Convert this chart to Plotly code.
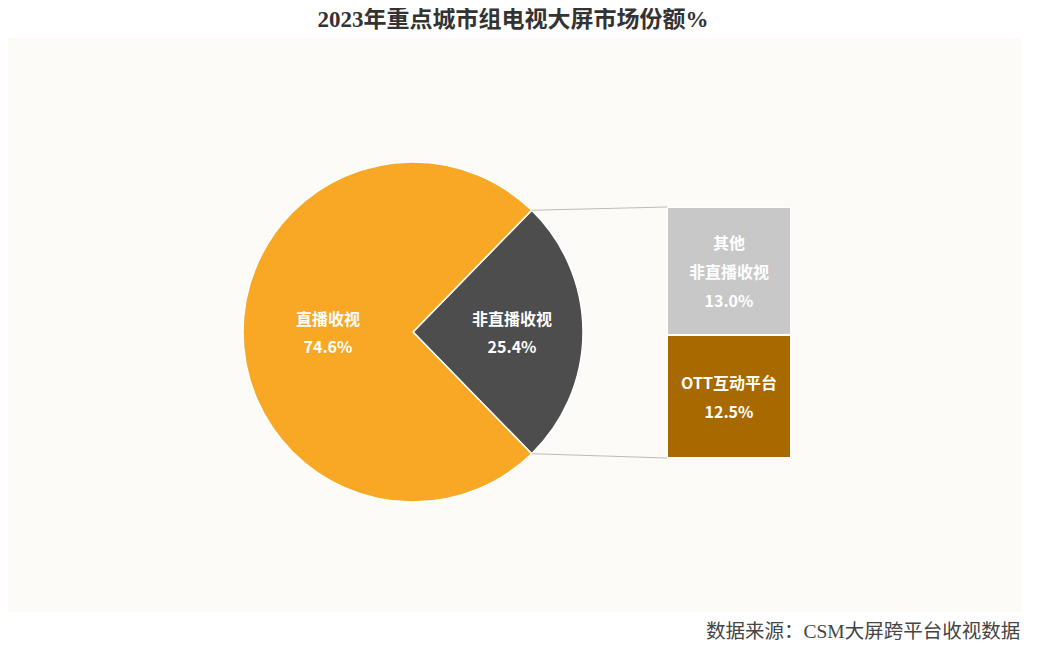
import math
import plotly.graph_objects as go

# pie data
pie_labels = ['非直播收视', '直播收视']
pie_values = [25.4, 74.6]
pie_colors = ['#4D4D4D', '#F9A825']

# breakdown of the non-live slice (bottom to top)
bar_labels = ['OTT互动平台', '其他<br>非直播收视']
bar_values = [12.5, 13.0]
bar_colors = ['#A86A00', '#C8C8C8']

W, H = 1040, 659
OFF = 8  # page body margin


def px_x(x):
    return (x - OFF) / W


def px_y(y):
    return (H - (y - OFF)) / H


# pie geometry (screen pixels)
cx, cy, r = 413, 332, 170
pie_dom_x = [px_x(cx - r), px_x(cx + r)]
pie_dom_y = [px_y(cy + r), px_y(cy - r)]

# bar geometry (screen pixels)
bar_left, bar_right, bar_top, bar_bottom = 667, 791, 207, 458
bar_dom_x = [px_x(bar_left), px_x(bar_right)]
bar_dom_y = [px_y(bar_bottom), px_y(bar_top)]

# rotate so the first slice is centred at 3 o'clock
half = pie_values[0] / sum(pie_values) * 360 / 2
rotation = 90 - half

SMALL = '<span style="font-size:16px">'


def two_line(lab, val):
    lines = lab.split('<br>') + [f'{val:.1f}%']
    return '<br>'.join(f'{SMALL}<b>{s}</b></span>' for s in lines)


fig = go.Figure()

fig.add_trace(go.Pie(
    labels=pie_labels,
    values=pie_values,
    sort=False,
    direction='clockwise',
    rotation=rotation,
    marker=dict(colors=pie_colors, line=dict(color='white', width=1.5)),
    text=[two_line(l, v) for l, v in zip(pie_labels, pie_values)],
    textinfo='text',
    textposition='inside',
    insidetextorientation='horizontal',
    textfont=dict(family='Noto Sans CJK SC', size=22, color='white'),
    domain=dict(x=pie_dom_x, y=pie_dom_y),
    showlegend=False,
    hoverinfo='label+value',
))

for lab, val, col in zip(bar_labels, bar_values, bar_colors):
    fig.add_trace(go.Bar(
        x=[0],
        y=[val],
        width=1,
        marker=dict(color=col, line=dict(color='white', width=2)),
        text=[two_line(lab, val)],
        textposition='inside',
        insidetextanchor='middle',
        textangle=0,
        textfont=dict(family='Noto Sans CJK SC', size=22, color='white'),
        showlegend=False,
        name=lab.replace('<br>', ''),
    ))

# connector lines from slice edges to the bar corners
a_top = math.radians(rotation)
a_bot = math.radians(rotation + 2 * half)
p_top = (cx + r * math.sin(a_top), cy - r * math.cos(a_top))
p_bot = (cx + r * math.sin(a_bot), cy - r * math.cos(a_bot))
for (px_, py_), by in [(p_top, bar_top), (p_bot, bar_bottom)]:
    fig.add_shape(type='line', xref='paper', yref='paper',
                  x0=px_x(px_), y0=px_y(py_),
                  x1=px_x(bar_left), y1=px_y(by),
                  line=dict(color='#BDBDBD', width=1))

# cream panel behind the chart
fig.add_shape(type='rect', xref='paper', yref='paper',
              x0=px_x(8), x1=px_x(1022), y0=px_y(612), y1=px_y(38),
              fillcolor='#FCFBF7', line=dict(width=0), layer='below')

fig.update_layout(
    width=W,
    height=H,
    margin=dict(l=0, r=0, t=0, b=0),
    paper_bgcolor='white',
    plot_bgcolor='rgba(0,0,0,0)',
    barmode='stack',
    bargap=0,
    xaxis=dict(domain=bar_dom_x, range=[-0.5, 0.5], visible=False, fixedrange=True),
    yaxis=dict(domain=bar_dom_y, range=[0, sum(bar_values)], visible=False, fixedrange=True),
    title=dict(
        text='<b>2023年重点城市组电视大屏市场份额%</b>',
        x=px_x(513), xanchor='center', y=px_y(19), yanchor='middle',
        font=dict(family='Liberation Serif, Noto Sans CJK SC', size=23, color='#333333'),
    ),
    annotations=[dict(
        text='数据来源：CSM大屏跨平台收视数据',
        xref='paper', yref='paper', x=px_x(1022), y=px_y(631),
        xanchor='right', yanchor='middle', showarrow=False,
        font=dict(family='Liberation Serif, Noto Sans CJK SC', size=19.5, color='#444444'),
    )],
)

fig.write_html('out.html')
